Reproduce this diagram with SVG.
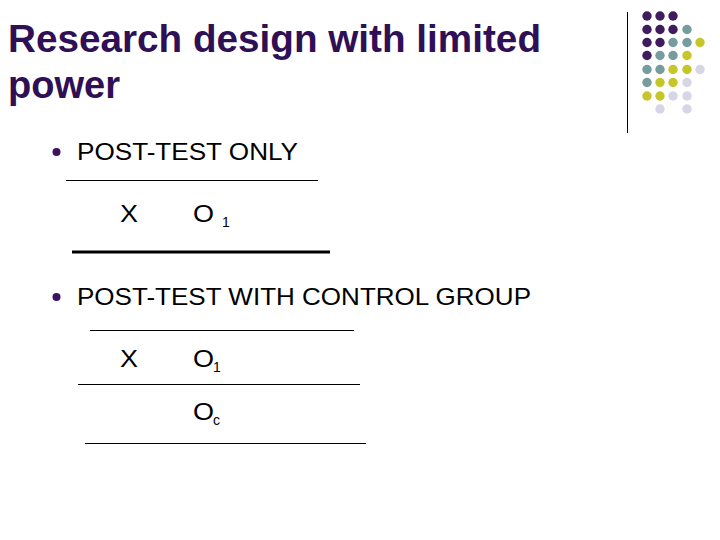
<svg xmlns="http://www.w3.org/2000/svg" width="720" height="540" viewBox="0 0 720 540">
<style>
.title{font-family:"Liberation Sans",Arial,sans-serif;font-weight:bold;font-size:39px;fill:#2f0f55}
.t{font-family:"Liberation Sans",Arial,sans-serif;font-size:24px;fill:#000}
.s{font-family:"Liberation Sans",Arial,sans-serif;font-size:14px;fill:#000}
.ln{stroke:#000;stroke-width:1}
.p{fill:#3e1c5e}.g{fill:#779c9e}.y{fill:#c6c62a}.l{fill:#d6d6e6}
</style>
<rect width="720" height="540" fill="#fff"/>
<g id="title">
<text class="title" x="8" y="52" textLength="533" lengthAdjust="spacingAndGlyphs">Research design with limited</text>
<text class="title" x="8" y="98" textLength="112" lengthAdjust="spacingAndGlyphs">power</text>
</g>
<g id="decor">
<line x1="627.5" y1="12" x2="627.5" y2="133" stroke="#000" stroke-width="1"/>
<g>
<circle class="p" cx="647" cy="16" r="4.7"/><circle class="p" cx="660" cy="16" r="4.7"/><circle class="p" cx="673" cy="16" r="4.7"/>
<circle class="p" cx="647" cy="29.5" r="4.7"/><circle class="p" cx="660" cy="29.5" r="4.7"/><circle class="p" cx="673" cy="29.5" r="4.7"/><circle class="g" cx="687" cy="29.5" r="4.7"/>
<circle class="p" cx="647" cy="42.5" r="4.7"/><circle class="p" cx="660" cy="42.5" r="4.7"/><circle class="g" cx="673" cy="42.5" r="4.7"/><circle class="g" cx="687" cy="42.5" r="4.7"/><circle class="y" cx="700" cy="42.5" r="4.7"/>
<circle class="p" cx="647" cy="55.5" r="4.7"/><circle class="g" cx="660" cy="55.5" r="4.7"/><circle class="g" cx="673" cy="55.5" r="4.7"/><circle class="y" cx="687" cy="55.5" r="4.7"/>
<circle class="g" cx="647" cy="69.5" r="4.7"/><circle class="g" cx="660" cy="69.5" r="4.7"/><circle class="y" cx="673" cy="69.5" r="4.7"/><circle class="y" cx="687" cy="69.5" r="4.7"/><circle class="l" cx="700" cy="69.5" r="4.7"/>
<circle class="g" cx="647" cy="82.5" r="4.7"/><circle class="y" cx="660" cy="82.5" r="4.7"/><circle class="y" cx="673" cy="82.5" r="4.7"/><circle class="l" cx="687" cy="82.5" r="4.7"/>
<circle class="y" cx="647" cy="96" r="4.7"/><circle class="y" cx="660" cy="96" r="4.7"/><circle class="l" cx="673" cy="96" r="4.7"/><circle class="l" cx="687" cy="96" r="4.7"/>
<circle class="l" cx="660" cy="109" r="4.7"/><circle class="l" cx="687" cy="109" r="4.7"/>
</g>
</g>
<g id="bullet1">
<circle cx="56.5" cy="152" r="4" fill="#3a145e"/>
<text class="t" x="77" y="160" textLength="221" lengthAdjust="spacingAndGlyphs">POST-TEST ONLY</text>
</g>
<g id="design1">
<line class="ln" x1="66" y1="180.5" x2="318" y2="180.5"/>
<text class="t" x="120" y="222" textLength="18" lengthAdjust="spacingAndGlyphs">X</text>
<text class="t" x="193" y="222" textLength="21" lengthAdjust="spacingAndGlyphs">O</text>
<text class="s" x="222" y="227">1</text>
<line x1="72" y1="252" x2="330" y2="252" stroke="#000" stroke-width="3"/>
</g>
<g id="bullet2">
<circle cx="56.5" cy="297" r="4" fill="#3a145e"/>
<text class="t" x="77" y="305" textLength="454" lengthAdjust="spacingAndGlyphs">POST-TEST WITH CONTROL GROUP</text>
</g>
<g id="design2">
<line class="ln" x1="90" y1="330.5" x2="354" y2="330.5"/>
<text class="t" x="120" y="367" textLength="18" lengthAdjust="spacingAndGlyphs">X</text>
<text class="t" x="193" y="367" textLength="21" lengthAdjust="spacingAndGlyphs">O</text>
<text class="s" x="213" y="372">1</text>
<line class="ln" x1="78" y1="384.5" x2="360" y2="384.5"/>
<text class="t" x="193" y="420" textLength="21" lengthAdjust="spacingAndGlyphs">O</text>
<text class="s" x="213" y="425">c</text>
<line class="ln" x1="85" y1="443.5" x2="366" y2="443.5"/>
</g>
</svg>
